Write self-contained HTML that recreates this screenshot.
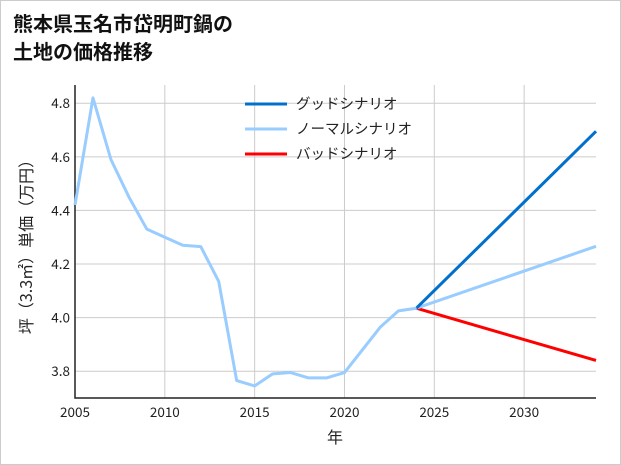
<!DOCTYPE html>
<html><head><meta charset="utf-8"><style>
body{margin:0;background:#fff;}
svg{display:block;font-family:"Noto Sans CJK JP","Liberation Sans",sans-serif;}
</style></head><body>
<svg id="chart" width="621" height="465">
<rect x="0.5" y="0.5" width="620" height="464" fill="#fff" stroke="#ccc"/>
<text x="13" y="31" font-size="20" font-weight="bold" fill="#111">熊本県玉名市岱明町鍋の</text>
<text x="13" y="59" font-size="20" font-weight="bold" fill="#111">土地の価格推移</text>
<g id="grid"></g><g id="axes"></g><g id="series"></g>
<text x="32" y="243" font-size="16" fill="#222" text-anchor="middle" transform="rotate(-90 32 243)">坪（3.3㎡）単価（万円）</text>
<text x="335" y="443" font-size="16" fill="#222" text-anchor="middle">年</text>
<g>
<line x1="245" y1="104" x2="287" y2="104" stroke="#0070cc" stroke-width="3"/>
<text x="296" y="109" font-size="14.5" fill="#222">グッドシナリオ</text>
<line x1="245" y1="129" x2="287" y2="129" stroke="#99ccff" stroke-width="3"/>
<text x="296" y="134" font-size="14.5" fill="#222">ノーマルシナリオ</text>
<line x1="245" y1="154" x2="287" y2="154" stroke="#ff0000" stroke-width="3"/>
<text x="296" y="159" font-size="14.5" fill="#222">バッドシナリオ</text>
</g>
</svg>
<script>
const years=[2005,2006,2007,2008,2009,2010,2011,2012,2013,2014,2015,2016,2017,2018,2019,2020,2021,2022,2023,2024];
const prices=[4.42,4.82,4.59,4.45,4.33,4.30,4.27,4.265,4.135,3.765,3.745,3.79,3.795,3.775,3.775,3.795,3.88,3.965,4.025,4.035];
const scenarioYears=[2024,2034];
const goodValues=[4.035,4.695];
const normalValues=[4.035,4.266];
const badValues=[4.035,3.84];
const xTicks=[2005,2010,2015,2020,2025,2030];
const yTicks=[3.8,4.0,4.2,4.4,4.6,4.8];
const X0=75,X1=596,Y0=398,Y1=85,xmin=2005,xmax=2034,ymin=3.70,ymax=4.868;
const sx=v=>X0+(v-xmin)/(xmax-xmin)*(X1-X0);
const sy=v=>Y0-(v-ymin)/(ymax-ymin)*(Y0-Y1);
const NS="http://www.w3.org/2000/svg";
function mk(tag,attrs,parent){const e=document.createElementNS(NS,tag);for(const k in attrs)e.setAttribute(k,attrs[k]);document.getElementById(parent).appendChild(e);return e;}
xTicks.forEach(t=>{
 const l=mk('line',{x1:sx(t),x2:sx(t),y1:Y1,y2:Y0,stroke:'#ccc','stroke-width':1},'grid');
 
 
 const tx=mk('text',{x:sx(t),y:Y0+19,'font-size':13.5,fill:'#222','text-anchor':'middle'},'axes');
 tx.textContent=t;
 
 
});
yTicks.forEach(t=>{
 const l=mk('line',{x1:X0,x2:X1,y1:sy(t),y2:sy(t),stroke:'#ccc','stroke-width':1},'grid');
 
 
 const tx=mk('text',{x:X0-5,y:sy(t)+5,'font-size':13.5,fill:'#222','text-anchor':'end'},'axes');
 tx.textContent=t.toFixed(1);
 
 
});
const ax=mk('path',{d:`M${X0},${Y1}V${Y0}H${X1}`,fill:'none',stroke:'#222','stroke-width':1.5},'axes');


function line(xs,ys,color,name){
 const d=xs.map((x,i)=>(i?'L':'M')+sx(x)+','+sy(ys[i])).join('');
 const p=mk('path',{d,fill:'none',stroke:color,'stroke-width':3,'stroke-linejoin':'round'},'series');
 
 
}
line(scenarioYears,badValues,'#ff0000','bad-scenario-line');
line(scenarioYears,normalValues,'#99ccff','normal-scenario-line');
line(scenarioYears,goodValues,'#0070cc','good-scenario-line');
line(years,prices,'#99ccff','historical-price-line');
</script>
</body></html>
